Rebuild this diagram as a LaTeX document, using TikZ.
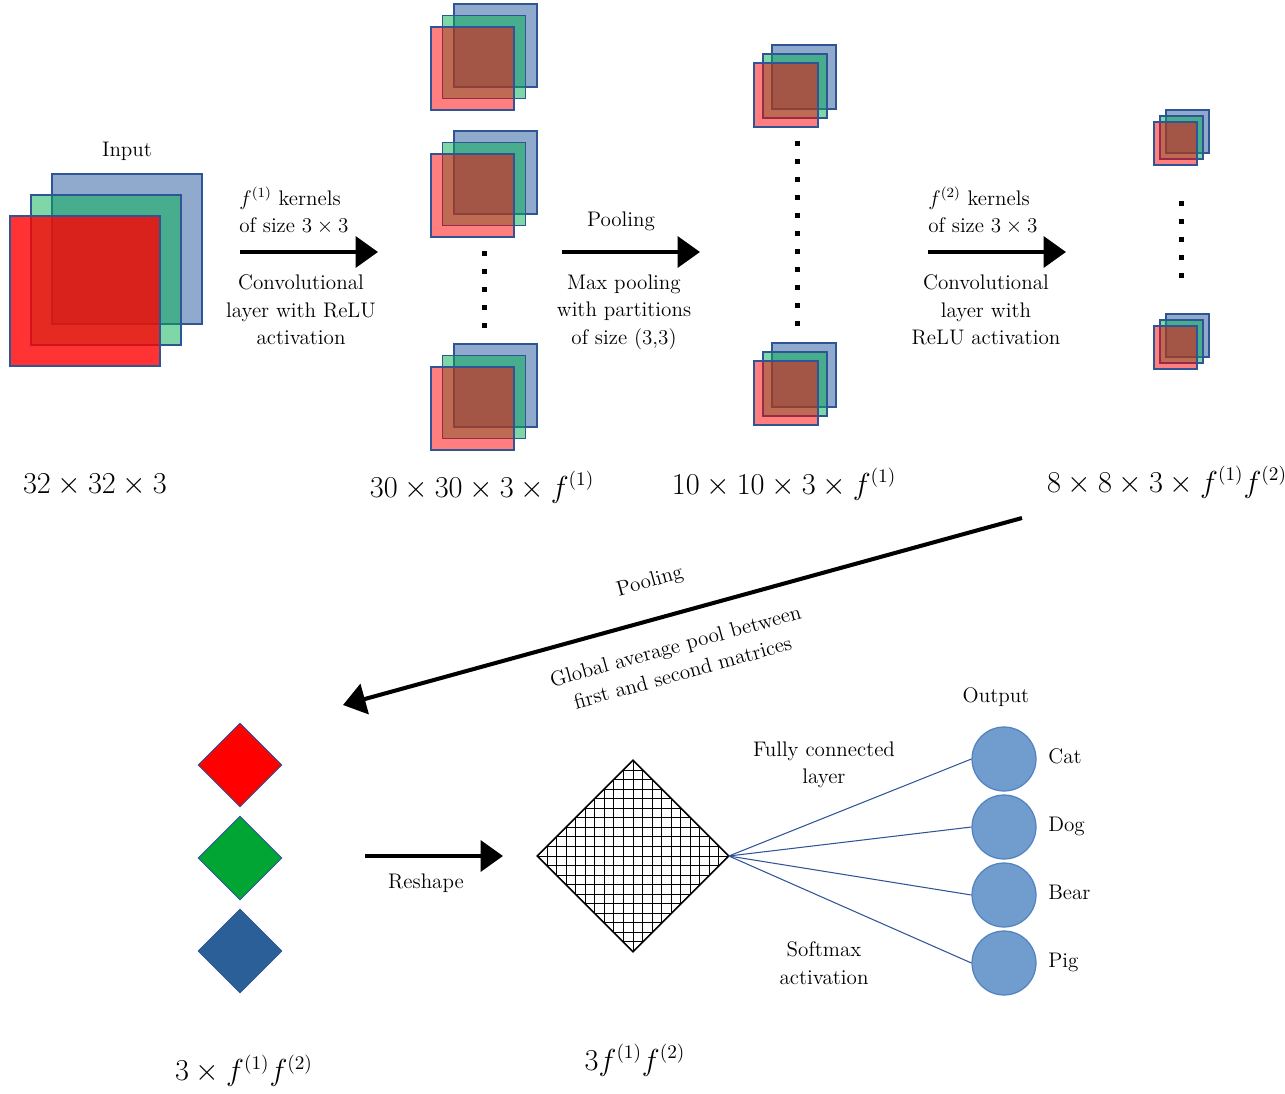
\documentclass[tikz,border=0pt]{standalone}
\usepackage{amsmath}
\usepackage{tikz}
\usetikzlibrary{arrows.meta, shapes.geometric, positioning, calc}

\definecolor{C_RED} {HTML}{FF0000}
\definecolor{C_GRN} {HTML}{00B050}
\definecolor{C_BLU} {HTML}{8FAACC}
\definecolor{C_EDGE}{HTML}{2F5597}
\definecolor{C_DGRN}{HTML}{00A533}
\definecolor{C_DBLU}{HTML}{2B5F98}
\definecolor{C_OUT} {HTML}{709CCE}
\definecolor{C_OUTE}{HTML}{5283C0}

\tikzset{
  %% -- feature map layers --
  FM/blue/.style={draw=C_EDGE, line width=0.7pt, fill=C_BLU},
  FM/green/.style={draw=C_EDGE, line width=0.7pt, fill=C_GRN, fill opacity=0.5},
  FM/red/.style={draw=C_EDGE, line width=0.7pt, fill=C_RED, fill opacity=#1},
  %% -- labels --
  NN/txt/.style={font=\fontsize{12}{15.6}\selectfont, inner sep=0pt, align=center},
  NN/dim/.style={font=\fontsize{16}{19}\selectfont, inner sep=0pt, anchor=base},
  %% -- thick block arrow --
  NN/arr/.style={-{Triangle[length=0.45cm, width=0.62cm]}, line width=2.3pt},
  %% -- pooled vector cells --
  NN/vec/.style={diamond, draw=C_EDGE, line width=0.5pt, inner sep=0pt,
    minimum width=1.68cm, minimum height=1.68cm},
  %% -- output neurons --
  NN/out/.style={circle, draw=C_OUTE, line width=0.7pt, fill=C_OUT,
    inner sep=0pt, minimum size=1.28cm},
  NN/fc/.style={draw=C_EDGE, line width=0.6pt},
}

\begin{document}
\begin{tikzpicture}[x=0.02cm, y=-0.02cm]
\useasboundingbox (0,0) rectangle (1285,1093);

%% ── Feature map stacks (red corner x/y, side, shift, red opacity) ─────────
\foreach \sx/\sy/\ss/\sd/\so in {10/216/150/21/0.8,
  431/27/83/11.5/0.5, 431/154/83/11.5/0.5, 431/367/83/11.5/0.5,
  754/63/64/9/0.5, 754/361/64/9/0.5,
  1154/122/43/6/0.5, 1154/326/43/6/0.5}{
  \draw[FM/blue]    (\sx+2*\sd,\sy-2*\sd) rectangle ++(\ss,\ss);
  \draw[FM/green]   (\sx+\sd,\sy-\sd)     rectangle ++(\ss,\ss);
  \draw[FM/red=\so] (\sx,\sy)             rectangle ++(\ss,\ss);
}

%% ── Vertical dots ──────────────────────────────────────────────────────────
\foreach \y in {253,271,...,325} \fill (481.5,\y-2.5) rectangle ++(5,5);
\foreach \y in {143,161,...,323} \fill (794.5,\y-2.5) rectangle ++(5,5);
\foreach \y in {203,221,...,275} \fill (1178.5,\y-2.5) rectangle ++(5,5);

%% ══════════════════════════════════════════════════════════════════════════
%% ROW 1 — convolution and pooling
%% ══════════════════════════════════════════════════════════════════════════
\node[NN/txt, anchor=base] (tIn) at (127,156) {Input};

\coordinate (a1s) at (240,252);
\coordinate (a1e) at (378,252);
\draw[NN/arr] (a1s) -- (a1e);
\node[NN/txt, align=left, anchor=west] (k1) at (239,211)
  {$f^{(1)}$ kernels\\of size $3\times 3$};
\node[NN/txt] (c1) at (301,310) {Convolutional\\layer with ReLU\\activation};

\coordinate (a2s) at (562,252);
\coordinate (a2e) at (700,252);
\draw[NN/arr] (a2s) -- (a2e);
\node[NN/txt, anchor=base] (p1) at (621,226) {Pooling};
\node[NN/txt] (m1) at (624,312) {Max pooling\\with partitions\\of size (3,3)};

\coordinate (a3s) at (928,252);
\coordinate (a3e) at (1066,252);
\draw[NN/arr] (a3s) -- (a3e);
\node[NN/txt, align=left, anchor=west] (k2) at (928,211)
  {$f^{(2)}$ kernels\\of size $3\times 3$};
\node[NN/txt] (c2) at (986,310) {Convolutional\\layer with\\ReLU activation};

%% sizes
\node[NN/dim] (d1) at (95,493)   {$32\times 32\times 3$};
\node[NN/dim] (d2) at (482,497)  {$30\times 30\times 3\times f^{(1)}$};
\node[NN/dim] (d3) at (784,494)  {$10\times 10\times 3\times f^{(1)}$};
\node[NN/dim] (d4) at (1167,492) {$8\times 8\times 3\times f^{(1)}f^{(2)}$};

%% ══════════════════════════════════════════════════════════════════════════
%% Global average pooling
%% ══════════════════════════════════════════════════════════════════════════
\coordinate (gs) at (1022,518);
\coordinate (ge) at (343,705);
\draw[NN/arr] (gs) -- (ge);
\node[NN/txt, rotate=15.4] (gp) at (650,582) {Pooling};
\node[NN/txt, rotate=15.4] (gl) at (679,659)
  {Global average pool between\\first and second matrices};

%% ══════════════════════════════════════════════════════════════════════════
%% ROW 2 — reshape, fully connected, output
%% ══════════════════════════════════════════════════════════════════════════
\node[NN/vec, fill=C_RED]  (vR) at (240,765) {};
\node[NN/vec, fill=C_DGRN] (vG) at (240,858) {};
\node[NN/vec, fill=C_DBLU] (vB) at (240,951) {};
\node[NN/dim] (d5) at (244,1080) {$3\times f^{(1)}f^{(2)}$};

\coordinate (rs) at (365,856);
\coordinate (re) at (503,856);
\draw[NN/arr] (rs) -- (re);
\node[NN/txt, anchor=base] (rl) at (426,888) {Reshape};

%% flattened vector (hatched diamond)
\node[diamond, inner sep=0pt, minimum width=3.82cm, minimum height=3.82cm]
  (flat) at (633,856) {};
\begin{scope}
  \clip (flat.north) -- (flat.east) -- (flat.south) -- (flat.west) -- cycle;
  \foreach \k in {-10,...,10} {
    \draw[line width=0.55pt] (633+9.55*\k,761) -- (633+9.55*\k,951);
    \draw[line width=0.55pt] (538,856+9.55*\k) -- (728,856+9.55*\k);
  }
\end{scope}
\draw[line width=0.9pt] (flat.north) -- (flat.east) -- (flat.south)
  -- (flat.west) -- cycle;
\node[NN/dim] (d6) at (635,1070) {$3f^{(1)}f^{(2)}$};

%% output neurons
\node[NN/txt, anchor=base] (tOut) at (996,702) {Output};
\foreach \nm/\lb/\yy in {oCat/Cat/759, oDog/Dog/827, oBear/Bear/895, oPig/Pig/963}{
  \node[NN/out] (\nm) at (1004,\yy) {};
  \node[NN/txt, anchor=base west] (l\nm) at (1048,\yy+4) {\lb};
  \draw[NN/fc] (flat.east) -- (\nm.west);
}
\node[NN/txt] (fcl) at (824,765) {Fully connected\\layer};
\node[NN/txt] (smx) at (824,963) {Softmax\\activation};

\end{tikzpicture}
\end{document}
